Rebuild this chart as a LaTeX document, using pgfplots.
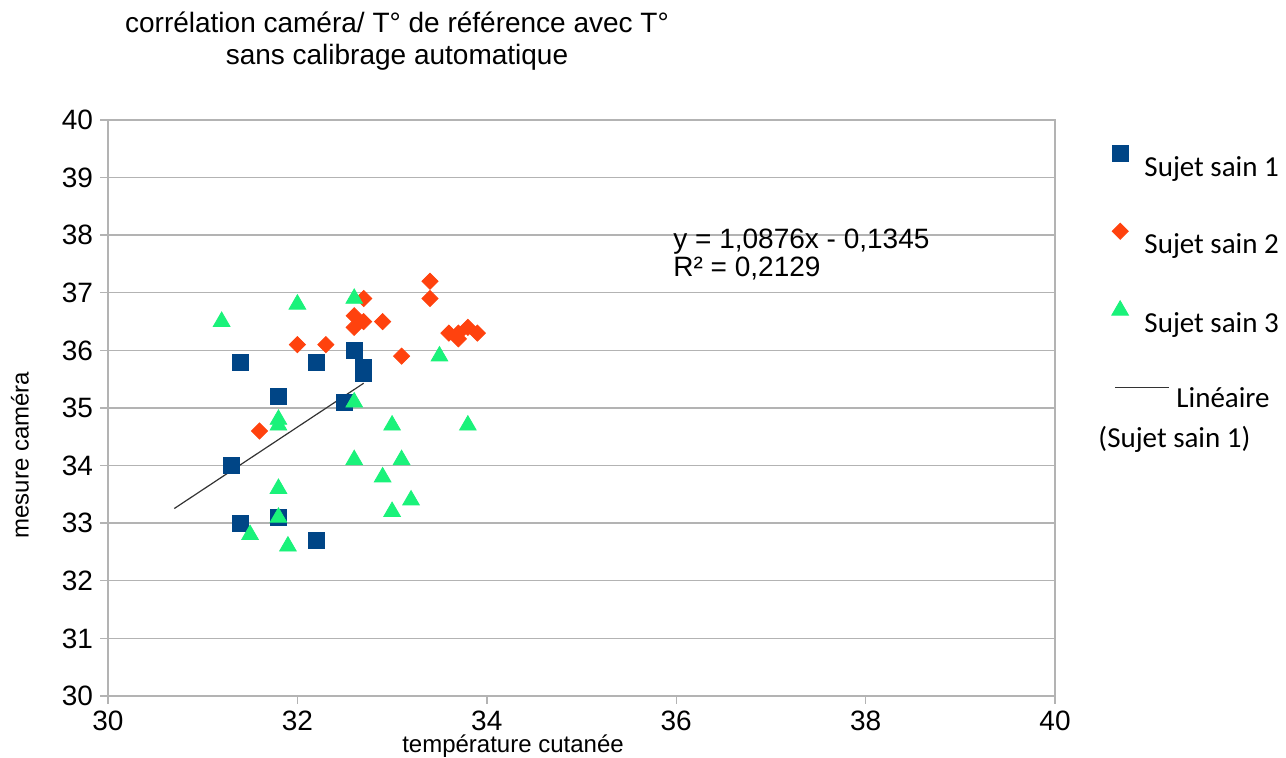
\documentclass[border=0pt]{standalone}
\usepackage{pgfplots}
\pgfplotsset{compat=1.18}
\usepackage{fontspec}
\setmainfont{Liberation Sans}
\newfontfamily\calibri{Carlito}
\definecolor{c1}{HTML}{004586}
\definecolor{c2}{HTML}{FF420E}
\definecolor{c3}{HTML}{1AF27A}
\definecolor{gridc}{HTML}{B3B3B3}
\pgfplotsset{linelegend/.style={legend image code/.code={\draw[##1, overlay] (6pt,3pt) -- (33pt,3pt);}}}
\begin{document}
\begin{tikzpicture}
\useasboundingbox (-54pt,-31pt) rectangle (589pt,348pt);
\begin{axis}[
  scale only axis, width=473.5pt, height=288pt,
  at={(0pt,0pt)}, anchor=south west,
  xmin=30, xmax=40, ymin=30, ymax=40,
  xtick={30,32,...,40}, ytick={30,31,...,40},
  ymajorgrids, grid style={gridc, line width=0.7pt},
  axis line style={gridc, line width=0.7pt},
  tick style={gridc, line width=0.7pt},
  tick align=outside, major tick length=4pt,
  xtick pos=left, ytick pos=left,
  ticklabel style={font=\fontsize{14}{16}\selectfont},
  /pgf/number format/assume math mode=true,
  legend style={at={(1.044,0.963)}, anchor=north west, draw=none, fill=none,
    font=\calibri\fontsize{14.5}{17}\selectfont, row sep=20pt,
    /tikz/every odd column/.append style={column sep=6pt}},
  legend cell align=left,
  legend image post style={yshift=7pt},
]
\addplot[only marks, mark=square*, mark size=4pt, mark options={draw=c1, fill=c1}] coordinates {
(31.4,35.8) (31.3,34.0) (31.4,33.0) (31.8,35.2) (31.8,33.1) (32.2,35.8) (32.2,32.7)
(32.5,35.1) (32.6,36.0) (32.7,35.7) (32.7,35.6)};
\addlegendentry{Sujet sain 1}
\addplot[only marks, mark=square*, mark size=2.85pt, mark options={draw=c2, fill=c2, rotate=45}] coordinates {
(31.6,34.6) (32.0,36.1) (32.3,36.1) (32.6,36.6) (32.7,36.5) (32.6,36.4) (32.7,36.9)
(32.9,36.5) (33.1,35.9) (33.4,37.2) (33.4,36.9) (33.6,36.3) (33.7,36.3) (33.7,36.2)
(33.8,36.4) (33.9,36.3)};
\addlegendentry{Sujet sain 2}
\addplot[only marks, mark=triangle*, mark size=4.8pt, mark options={draw=c3, fill=c3}] coordinates {
(31.2,36.5) (32.0,36.8) (32.6,36.9) (33.5,35.9) (32.6,35.1) (31.8,34.8) (31.8,34.7)
(33.0,34.7) (33.8,34.7) (32.6,34.1) (33.1,34.1) (32.9,33.8) (31.8,33.6) (33.2,33.4)
(33.0,33.2) (31.8,33.1) (31.5,32.8) (31.9,32.6)};
\addlegendentry{Sujet sain 3}
\addplot[black!80, line width=0.6pt, no marks, linelegend]
  coordinates {(30.7,33.2547) (32.7,35.4299)};
\addlegendentry{\begin{tabular}{@{}l@{}}\hspace*{16pt}Linéaire\\[3pt]\hspace*{-23pt}(Sujet sain 1)\end{tabular}}
\end{axis}
\node[align=center, font=\fontsize{14}{16}\selectfont] at (144.5pt,327.5pt)
  {corrélation caméra/ T° de référence avec T°\\sans calibrage automatique};
\node[anchor=base, font=\fontsize{12}{14}\selectfont] at (202.5pt,-28.5pt) {température cutanée};
\node[rotate=90, font=\fontsize{12}{14}\selectfont] at (-44pt,120.5pt) {mesure caméra};
\node[anchor=base west, inner sep=0pt, font=\fontsize{14}{16}\selectfont] at (282.5pt,223.5pt) {y = 1,0876x - 0,1345};
\node[anchor=base west, inner sep=0pt, font=\fontsize{14}{16}\selectfont] at (282.5pt,209.5pt) {R² = 0,2129};
\end{tikzpicture}
\end{document}
